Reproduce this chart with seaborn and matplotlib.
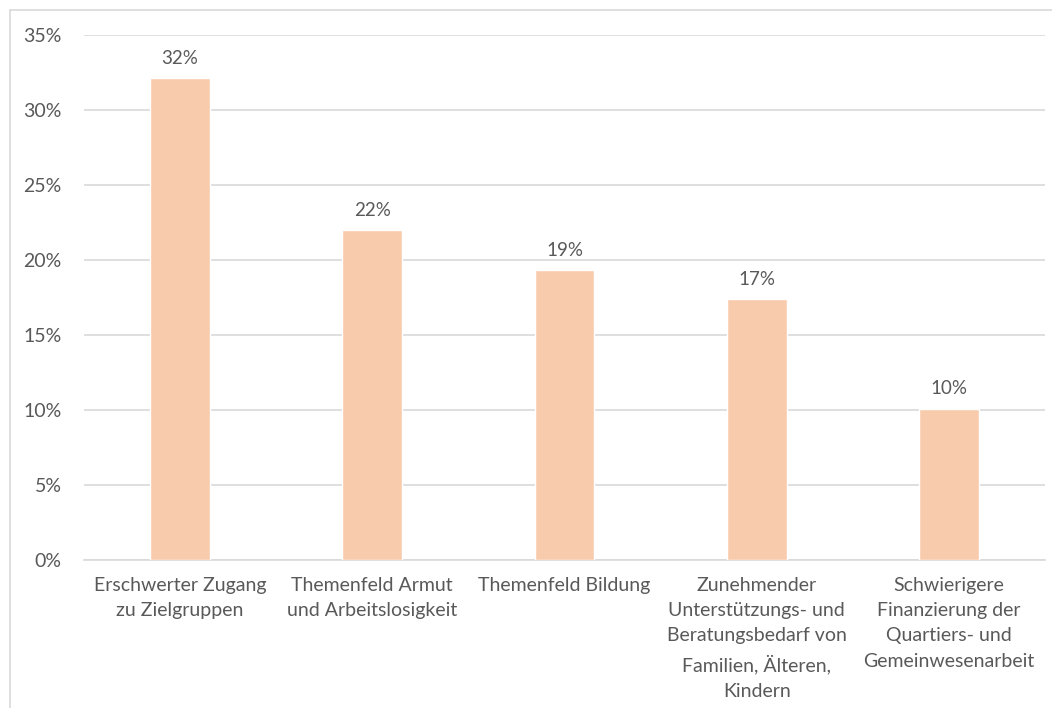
import matplotlib
matplotlib.use("Agg")
import matplotlib.pyplot as plt
import seaborn as sns
import pandas as pd

categories = [
    "Erschwerter Zugang\nzu Zielgruppen",
    "Themenfeld Armut\nund Arbeitslosigkeit",
    "Themenfeld Bildung",
    "Zunehmender\nUnterstützungs- und\nBeratungsbedarf von\nFamilien, Älteren,\nKindern",
    "Schwierigere\nFinanzierung der\nQuartiers- und\nGemeinwesenarbeit",
]
values = [32.1, 22.0, 19.3, 17.4, 10.1]
yticks = [0, 5, 10, 15, 20, 25, 30, 35]

df = pd.DataFrame({"cat": categories, "val": values})

sns.set_style("white")
plt.rcParams["font.family"] = ["Lato", "DejaVu Sans"]
text_col = "#595959"

fig = plt.figure(figsize=(10.52, 7.08), dpi=100)
ax = fig.add_axes([0.0798, 0.209, 0.9136, 0.7416])

sns.barplot(df, x="cat", y="val", color="#F8CBAD", width=0.31,
            saturation=1, ax=ax, zorder=3)

for i, v in enumerate(values):
    ax.text(i, v + 0.75, f"{v:.0f}%", ha="center", va="bottom",
            fontsize=13.5, color=text_col)

ax.set_ylim(0, 35)
ax.set_xlim(-0.5, 4.5)
ax.set_yticks(yticks)
ax.set_yticklabels([f"{t}%" for t in yticks])
ax.yaxis.grid(True, color="#D9D9D9", linewidth=1.2, zorder=0)
for s in ["top", "right", "left"]:
    ax.spines[s].set_visible(False)
ax.spines["bottom"].set_color("#D9D9D9")
ax.spines["bottom"].set_linewidth(1.2)
ax.tick_params(axis="x", length=0, labelsize=14, colors=text_col, pad=12)
ax.tick_params(axis="y", length=0, labelsize=14, colors=text_col, pad=16)
for lbl in ax.get_xticklabels():
    lbl.set_linespacing(1.6)
ax.set_xlabel("")
ax.set_ylabel("")

# chart border (only top and left visible in the crop)
fig.add_artist(plt.Line2D([10 / 1052, 1], [1 - 10 / 708] * 2,
                          color="#D9D9D9", linewidth=1.2))
fig.add_artist(plt.Line2D([10 / 1052] * 2, [0, 1 - 10 / 708],
                          color="#D9D9D9", linewidth=1.2))

fig.savefig("out.png", dpi=100)
